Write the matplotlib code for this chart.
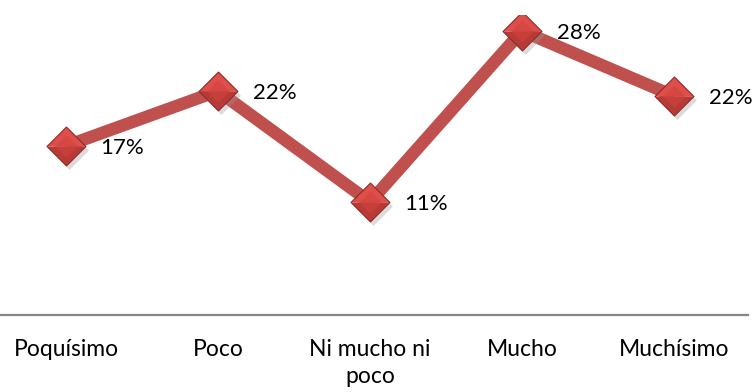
import matplotlib.pyplot as plt
import matplotlib.transforms as mtransforms
from matplotlib.path import Path

categorias = ["Poquísimo", "Poco", "Ni mucho ni\npoco", "Mucho", "Muchísimo"]
valores = [16.9, 22.4, 11.3, 28.4, 21.9]
etiquetas = ["17%", "22%", "11%", "28%", "22%"]

plt.rcParams['font.family'] = ['Lato', 'DejaVu Sans']

fig = plt.figure(figsize=(7.55, 3.92), dpi=100)
W, H = 755, 392
ax = fig.add_axes([0, 77 / H, 748 / W, 300 / H])
x = list(range(len(valores)))

# thick line
ax.plot(x, valores, color="#C0504D", lw=9, solid_capstyle="butt", zorder=2)

# diamond markers with a bit of a bevel look
arriba = Path([(-1, 0), (0, 1), (1, 0), (-1, 0)], closed=True)
abajo = Path([(-1, 0), (0, -1), (1, 0), (-1, 0)], closed=True)
rombo = Path([(-1, 0), (0, 1), (1, 0), (0, -1), (-1, 0)], closed=True)
interior = Path([(-0.55, 0), (0, 0.55), (0.55, 0), (0, -0.55), (-0.55, 0)], closed=True)

sombra = mtransforms.offset_copy(ax.transData, fig=fig, x=3, y=-4, units="dots")
ax.plot(x, valores, ls="none", marker=rombo, ms=28, mfc="#999999", mec="none",
        alpha=0.35, transform=sombra, zorder=3)
ax.plot(x, valores, ls="none", marker=arriba, ms=28, mfc="#DE4E4A", mec="none", zorder=4)
ax.plot(x, valores, ls="none", marker=abajo, ms=28, mfc="#B73A36", mec="none", zorder=4)
ax.plot(x, valores, ls="none", marker=interior, ms=16, mfc="#D2433F", mec="none",
        alpha=0.6, zorder=5)
ax.plot(x, valores, ls="none", marker=rombo, ms=28, mfc="none", mec="#8E2A27",
        mew=0.8, zorder=6)

# data labels
for xi, v, t in zip(x, valores, etiquetas):
    ax.annotate(t, (xi, v), xytext=(25, -1.5), textcoords="offset points",
                ha="left", va="center", fontsize=16, color="black", zorder=7)

ax.set_xlim(-0.434, 4.487)
ax.set_ylim(0, 30)
ax.set_xticks(x)
ax.set_xticklabels(categorias, fontsize=16.5, linespacing=1.35)
ax.tick_params(axis="x", length=0, pad=17)
ax.set_yticks([])
for s in ["top", "right", "left"]:
    ax.spines[s].set_visible(False)
ax.spines["bottom"].set_color("#868686")
ax.spines["bottom"].set_linewidth(1.6)
ax.patch.set_alpha(0)

fig.savefig("out.png", dpi=100)
